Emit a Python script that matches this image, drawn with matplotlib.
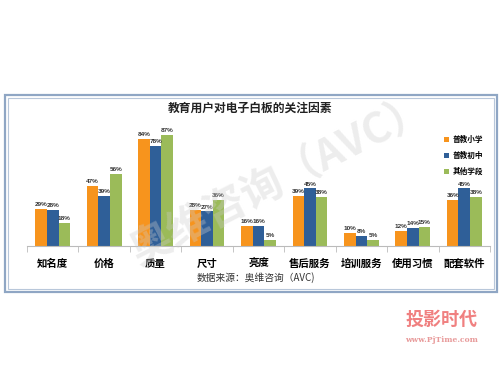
import matplotlib
matplotlib.use('Agg')
import matplotlib.pyplot as plt
from matplotlib.patches import Rectangle
import numpy as np

plt.rcParams['font.family'] = ['Noto Sans CJK SC', 'DejaVu Sans']

categories = ['知名度', '价格', '质量', '尺寸', '亮度', '售后服务', '培训服务', '使用习惯', '配套软件']
series_names = ['普教小学', '普教初中', '其他学段']
primary = [29, 47, 84, 28, 16, 39, 10, 12, 36]
junior = [28, 39, 78, 27, 16, 45, 8, 14, 45]
other = [18, 56, 87, 36, 5, 38, 5, 15, 38]
colors = ['#F7941D', '#2F5F98', '#9BBB59']

fig = plt.figure(figsize=(5, 3.75), dpi=100)
fig.set_facecolor('white')

# outer double frame
fig.patches.append(Rectangle((0.010, 0.221), 0.984, 0.526, transform=fig.transFigure,
                             fill=False, edgecolor='#8FA6C4', linewidth=1.6))
fig.patches.append(Rectangle((0.016, 0.229), 0.972, 0.510, transform=fig.transFigure,
                             fill=False, edgecolor='#B8C7DA', linewidth=0.8))

ax = fig.add_axes([0.054, 0.344, 0.926, 0.341])
x = np.arange(len(categories))
w = 0.225
for i, (vals, name) in enumerate(zip([primary, junior, other], series_names)):
    pos = x + (i - 1) * w
    ax.bar(pos, vals, width=w, color=colors[i], label=name, zorder=2)
    for px, v in zip(pos, vals):
        ax.text(px, v + 1.5, f'{v}%', ha='center', va='bottom', fontsize=4.6,
                fontweight='bold', color='#333333',
                family=['Liberation Sans Narrow', 'Liberation Sans'])

ax.set_xlim(-0.5, len(categories) - 0.5)
ax.set_ylim(0, 100)
ax.set_yticks([])
ax.set_xticks(x)
ax.set_xticklabels(categories, fontsize=7.5, fontweight='bold')
ax.set_xticks(np.arange(len(categories) + 1) - 0.5, minor=True)
ax.tick_params(axis='x', which='major', length=0, pad=9)
ax.tick_params(axis='x', which='minor', length=4, color='#BBBBBB')
for s in ['top', 'right', 'left']:
    ax.spines[s].set_visible(False)
ax.spines['bottom'].set_color('#BBBBBB')
ax.patch.set_alpha(0)

leg = ax.legend(loc='upper right', bbox_to_anchor=(1.0, 0.92), frameon=False,
                fontsize=5.5, handlelength=0.6, handleheight=0.6, labelspacing=0.9,
                handletextpad=0.5)
for t in leg.get_texts():
    t.set_fontweight('bold')

fig.text(0.5, 0.712, '教育用户对电子白板的关注因素', ha='center', va='center',
         fontsize=8.5, fontweight='bold', color='#222222')
fig.text(0.512, 0.261, '数据来源：奥维咨询（AVC)', ha='center', va='center',
         fontsize=7, color='#333333')

# watermark
fig.text(0.56, 0.52, '奥维咨询（AVC）', ha='center', va='center', rotation=27,
         fontsize=30, fontweight='bold', color='#CCCCCC', alpha=0.35, zorder=0)

# site logo
fig.text(0.955, 0.148, '投影时代', ha='right', va='center', fontsize=13,
         fontweight='bold', color='#F08080')
fig.text(0.955, 0.093, 'www.PjTime.com', ha='right', va='center', fontsize=5.5,
         fontweight='bold', color='#E89A9A', family=['DejaVu Serif'])

fig.savefig('out.png', dpi=100, facecolor='white')
